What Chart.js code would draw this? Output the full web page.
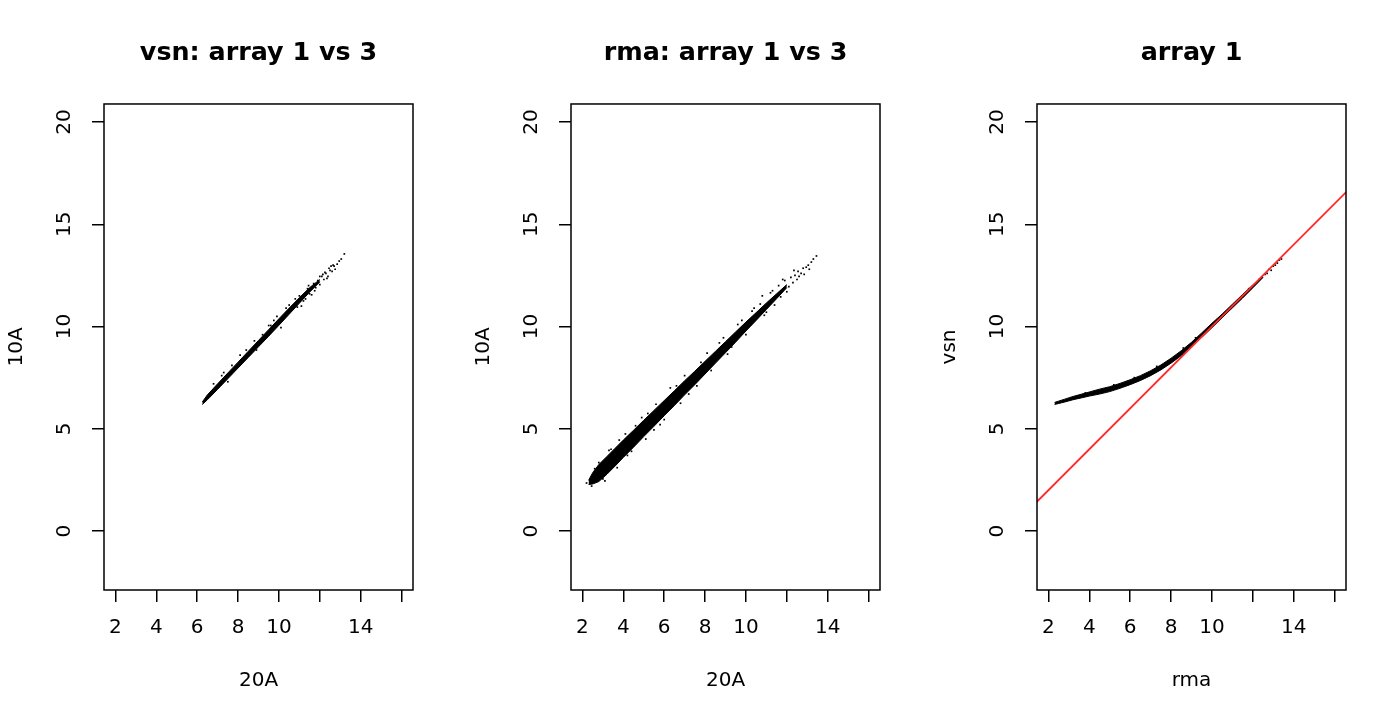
<!DOCTYPE html>
<html><head><meta charset="utf-8">
<script src="https://cdn.jsdelivr.net/npm/chart.js@4.4.1/dist/chart.umd.min.js"></script>
<style>
html,body{margin:0;padding:0;background:#fff;width:1400px;height:720px;overflow:hidden}
.panel{position:absolute;top:0;width:467px;height:720px}
</style></head><body>
<div class="panel" style="left:0"><canvas id="c1"></canvas></div>
<div class="panel" style="left:467px"><canvas id="c2"></canvas></div>
<div class="panel" style="left:933px"><canvas id="c3"></canvas></div>
<script>
// ---- axes / labels ----
const xTicks = [2, 4, 6, 8, 10, 12, 14, 16];
const xTickLabels = ['2', '4', '6', '8', '10', '', '14', ''];
const yTicks = [0, 5, 10, 15, 20];
const yTickLabels = ['0', '5', '10', '15', '20'];
const xLimits = [1.44, 16.56];
const yLimits = [-2.88, 20.88];
const titles = ['vsn: array 1 vs 3', 'rma: array 1 vs 3', 'array 1'];
const xTitles = ['20A', '20A', 'rma'];
const yTitles = ['10A', '10A', 'vsn'];

// ---- panel 1: vsn array 1 vs 3 (dense band edges + sparse points) ----
const bandX1 = [6.25, 6.5, 7.0, 7.5, 8.0, 8.5, 9.0, 9.5, 10.0, 10.5, 11.0, 11.5, 12.0];
const bandUp1 = [6.31, 6.66, 7.2, 7.73, 8.26, 8.79, 9.32, 9.85, 10.38, 10.9, 11.41, 11.9, 12.3];
const bandLo1 = [6.19, 6.42, 6.93, 7.45, 7.97, 8.49, 9.01, 9.53, 10.06, 10.6, 11.14, 11.68, 12.18];
const sparseX1 = [11.0, 11.2, 11.4, 11.5, 11.7, 11.8, 11.9, 12.0, 12.1, 12.2, 12.3, 12.4, 12.5, 12.6, 12.7, 12.85, 12.95, 13.2, 10.5, 10.2, 9.6, 9.2, 8.8, 8.4, 7.7, 7.2, 6.8, 7.5, 9.9, 11.3, 12.55, 12.25,
  7.3, 8.1, 8.9, 9.5, 10.1, 10.8, 11.1, 11.6, 11.45, 12.15, 12.35, 12.45, 12.75, 13.05, 12.65, 12.0, 11.75, 10.9, 10.35, 9.75];
const sparseY1 = [11.5, 11.25, 11.85, 11.6, 12.1, 11.9, 12.25, 12.05, 12.45, 12.3, 12.6, 12.45, 12.75, 12.7, 12.95, 13.05, 13.2, 13.55, 11.05, 10.45, 10.05, 9.6, 9.3, 8.85, 8.1, 7.6, 7.2, 7.3, 10.5, 11.35, 12.95, 12.65,
  7.75, 8.6, 8.85, 10.05, 9.95, 11.35, 11.0, 11.55, 12.0, 12.55, 12.35, 12.85, 12.8, 13.3, 13.0, 12.45, 11.75, 10.95, 10.9, 10.3];

// ---- panel 2: rma array 1 vs 3 ----
const bandX2 = [2.3, 2.5, 2.8, 3.2, 3.6, 4.0, 4.5, 5.0, 5.5, 6.0, 6.5, 7.0, 7.5, 8.0, 8.5, 9.0, 9.5, 10.0, 10.5, 11.0, 11.5, 12.0];
const bandUp2 = [2.48, 2.85, 3.25, 3.65, 4.05, 4.45, 4.93, 5.42, 5.9, 6.38, 6.86, 7.35, 7.82, 8.3, 8.78, 9.26, 9.74, 10.22, 10.68, 11.15, 11.6, 12.05];
const bandLo2 = [2.28, 2.3, 2.42, 2.78, 3.18, 3.6, 4.1, 4.62, 5.12, 5.64, 6.14, 6.66, 7.16, 7.68, 8.2, 8.72, 9.24, 9.78, 10.3, 10.83, 11.36, 11.9];
const sparseX2 = [11.9, 12.1, 12.2, 12.3, 12.4, 12.5, 12.55, 12.6, 12.7, 12.8, 12.85, 12.95, 13.05, 13.1, 13.2, 13.3, 13.45, 11.6, 11.3, 11.0, 10.7, 10.3, 9.8, 9.3, 8.7, 7.8, 7.2, 6.6, 5.8, 5.2, 4.6, 4.2, 3.4, 3.0, 2.6, 10.8, 2.2, 2.45, 3.8, 5.5,
  2.8, 3.1, 3.3, 3.7, 4.1, 4.4, 4.9, 5.1, 5.6, 6.0, 6.3, 6.8, 7.0, 7.6, 8.1, 8.3, 8.9, 9.1, 9.6, 10.0, 10.4, 10.9, 11.2, 11.4, 11.8, 12.0, 11.7, 12.35];
const sparseY2 = [12.25, 11.95, 12.4, 12.15, 12.5, 12.3, 12.7, 12.45, 12.6, 12.85, 12.55, 12.9, 13.0, 12.8, 13.15, 13.3, 13.45, 12.0, 11.75, 10.7, 11.1, 10.75, 10.3, 9.0, 9.2, 8.25, 6.7, 7.1, 5.2, 5.75, 5.15, 3.7, 4.0, 2.55, 3.05, 11.5, 2.35, 2.2, 4.45, 4.95,
  3.35, 2.45, 3.95, 3.1, 4.75, 3.9, 5.55, 4.5, 6.2, 5.45, 7.0, 6.25, 7.6, 7.1, 8.7, 7.85, 9.45, 8.65, 10.1, 9.6, 10.9, 10.55, 11.65, 11.05, 12.3, 11.7, 11.45, 12.75];

// ---- panel 3: array 1, vsn vs rma ----
const bandX3 = [2.3, 2.8, 3.2, 3.6, 4.0, 4.5, 5.0, 5.5, 6.0, 6.5, 7.0, 7.5, 8.0, 8.5, 9.0, 9.5, 10.0, 10.5, 11.0, 11.5, 12.0, 12.5];
const bandUp3 = [6.29, 6.45, 6.58, 6.69, 6.8, 6.94, 7.06, 7.22, 7.4, 7.6, 7.84, 8.12, 8.45, 8.82, 9.23, 9.69, 10.16, 10.61, 11.09, 11.57, 12.03, 12.48];
const bandLo3 = [6.19, 6.31, 6.42, 6.51, 6.6, 6.7, 6.82, 6.98, 7.16, 7.36, 7.6, 7.88, 8.21, 8.58, 9.01, 9.47, 9.94, 10.43, 10.91, 11.39, 11.89, 12.4];
const sparseX3 = [12.6, 12.7, 12.8, 12.9, 13.0, 13.1, 13.2, 13.3, 13.4, 5.2, 6.2, 7.3, 8.6, 9.2, 3.8, 11.8, 12.3];
const sparseY3 = [12.55, 12.6, 12.8, 12.75, 12.95, 13.0, 13.1, 13.25, 13.3, 7.15, 7.5, 8.05, 8.95, 9.45, 6.75, 11.85, 12.3];
const refLineX = [1, 17];
const refLineY = [1, 17];

// ---- helpers ----
Chart.defaults.font.family = "'DejaVu Sans', 'Liberation Sans', sans-serif";
Chart.defaults.color = '#000';

const pts = (xs, ys) => xs.map((x, i) => ({ x: x, y: ys[i] }));

const boxPlugin = {
  id: 'plotBox',
  afterDraw(chart) {
    const { ctx, chartArea: a } = chart;
    ctx.save();
    ctx.strokeStyle = '#000';
    ctx.lineWidth = 1.5;
    ctx.strokeRect(a.left, a.top, a.right - a.left, a.bottom - a.top);
    ctx.restore();
  }
};

function bandDatasets(bx, bu, bl, sx, sy) {
  return [
    { data: pts(bx, bu), borderColor: '#000', borderWidth: 1, pointRadius: 0, backgroundColor: '#000', fill: '+1', tension: 0 },
    { data: pts(bx, bl), borderColor: '#000', borderWidth: 1, pointRadius: 0, fill: false, tension: 0 },
    { data: pts(sx, sy), showLine: false, pointRadius: 1.2, pointStyle: 'rect', backgroundColor: '#000', borderWidth: 0 }
  ];
}

function makeChart(id, idx, datasets) {
  return new Chart(document.getElementById(id), {
    type: 'line',
    data: { datasets: datasets },
    options: {
      responsive: true, maintainAspectRatio: false, animation: false,
      events: [],
      layout: { padding: { left: 0, right: 54, top: 0, bottom: 0 } },
      plugins: {
        legend: { display: false },
        tooltip: { enabled: false },
        title: {
          display: true, text: titles[idx], fullSize: false, color: '#000',
          font: { size: 25.4, weight: 'bold' }, padding: { top: 38.5, bottom: 35 }
        }
      },
      scales: {
        x: {
          type: 'linear', position: 'bottom', min: xLimits[0], max: xLimits[1],
          afterBuildTicks: s => { s.ticks = xTicks.map(v => ({ value: v })); },
          afterFit: s => { s.height = 130; },
          ticks: { autoSkip: false, maxRotation: 0, minRotation: 0, padding: 14, color: '#000', font: { size: 20 },
                   callback: (v, i) => xTickLabels[i] },
          grid: { drawOnChartArea: false, drawTicks: true, tickLength: 12, color: '#000', lineWidth: 1.5 },
          border: { display: false },
          title: { display: true, text: xTitles[idx], color: '#000', font: { size: 20 }, padding: { top: 0, bottom: 27.6 } }
        },
        y: {
          type: 'linear', position: 'left', min: yLimits[0], max: yLimits[1],
          afterBuildTicks: s => { s.ticks = yTicks.map(v => ({ value: v })); },
          afterFit: s => { s.width = 104; },
          ticks: { autoSkip: false, minRotation: 90, maxRotation: 90, crossAlign: 'center', padding: 14, color: '#000', font: { size: 20 },
                   callback: (v, i) => yTickLabels[i] },
          grid: { drawOnChartArea: false, drawTicks: true, tickLength: 12, color: '#000', lineWidth: 1.5 },
          border: { display: false },
          title: { display: true, text: yTitles[idx], color: '#000', font: { size: 20 }, padding: { top: 5, bottom: 0 } }
        }
      }
    },
    plugins: [boxPlugin]
  });
}

makeChart('c1', 0, bandDatasets(bandX1, bandUp1, bandLo1, sparseX1, sparseY1));
makeChart('c2', 1, bandDatasets(bandX2, bandUp2, bandLo2, sparseX2, sparseY2));
makeChart('c3', 2, [
  { data: pts(refLineX, refLineY), borderColor: '#ff2a2a', borderWidth: 1.8, pointRadius: 0, fill: false, tension: 0 }
].concat(bandDatasets(bandX3, bandUp3, bandLo3, sparseX3, sparseY3)));
</script>
</body></html>
